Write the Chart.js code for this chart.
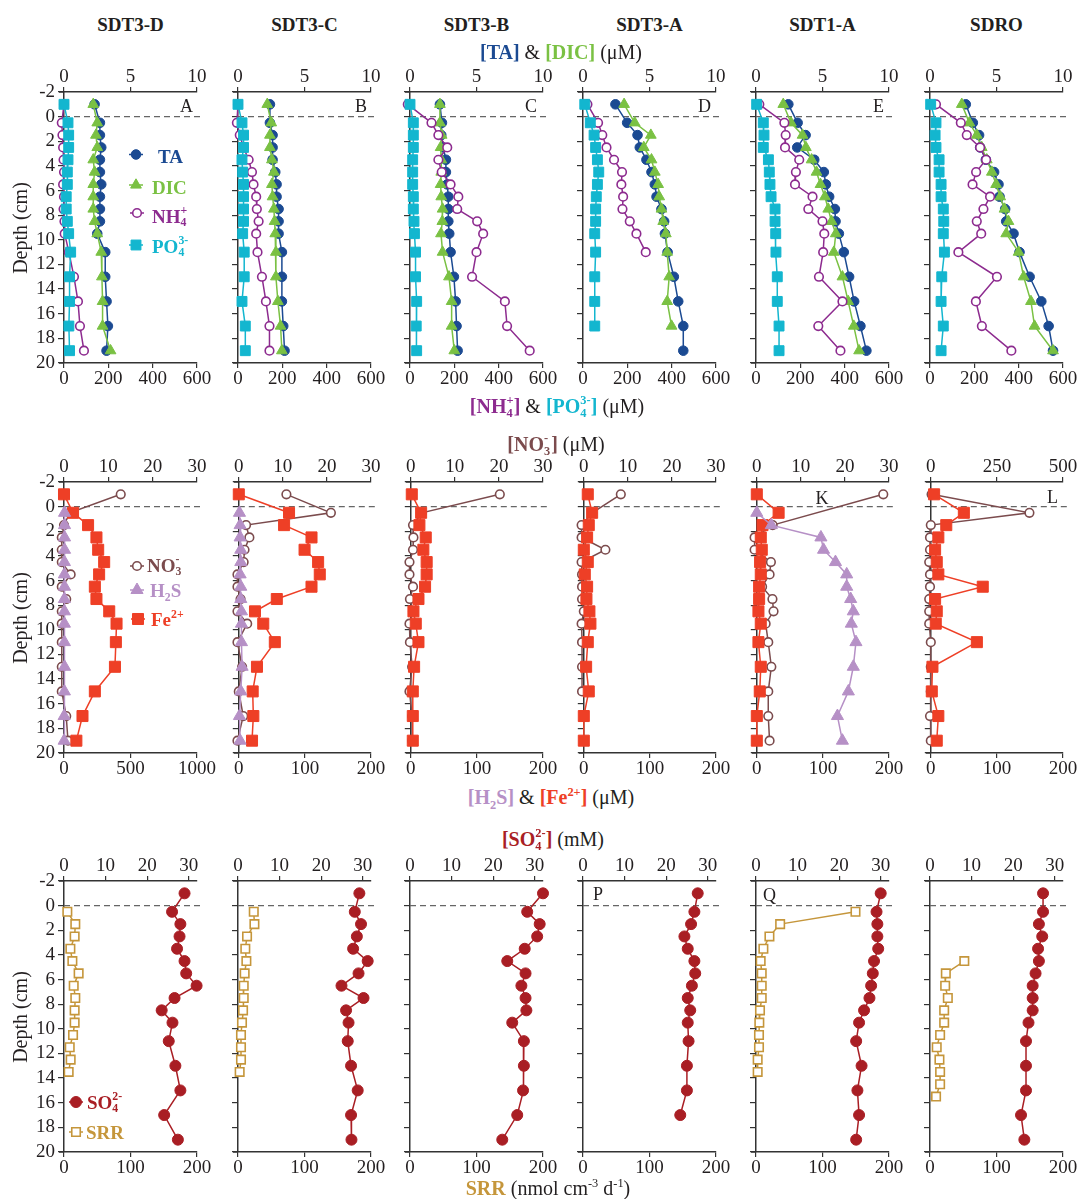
<!DOCTYPE html>
<html>
<head>
<meta charset="utf-8">
<script src="https://cdn.jsdelivr.net/npm/chart.js@4.4.1/dist/chart.umd.min.js"></script>
<style>
  body { margin: 0; background: #fff; }
  #page { position: relative; width: 1077px; height: 1199px; overflow: hidden; background: #fff;
          font-family: 'Liberation Serif', 'Times New Roman', serif; color: #231f20; }
  #page canvas { position: absolute; }
  .t { position: absolute; white-space: nowrap; line-height: 1; transform: translate(-50%, -50%); }
  .l { transform: translate(0, -50%); }
  .r { transform: translate(-100%, -50%); }
  .ttl { font-weight: bold; font-size: 19px; }
  .ax { font-size: 20px; }
  .lg { font-weight: bold; font-size: 19px; }
  .let { font-size: 18px; }
  sub, sup { font-size: 0.62em; line-height: 0; }
  .st { display: inline-block; position: relative; height: 1em; vertical-align: baseline; }
  .st .u, .st .d { position: absolute; left: 0; font-size: 0.62em; line-height: 1; }
  .st .u { top: 0.05em; }
  .st .d { top: 1.1em; }
</style>
</head>
<body>
<div id="page"></div>
<script>
// sites / columns
const sites = ['SDT3-D', 'SDT3-C', 'SDT3-B', 'SDT3-A', 'SDT1-A', 'SDRO'];

// depths (cm)
const depth = [-1, 0.5, 1.5, 2.5, 3.5, 4.5, 5.5, 6.5, 7.5, 8.5, 9.5, 11, 13, 15, 17, 19];
const depthH2S = [0.5, 1.5, 2.5, 3.5, 4.5, 5.5, 6.5, 7.5, 8.5, 9.5, 11, 13, 15, 17, 19];
const depthNo3T1A = [-1, 1.5, 2.5, 3.5, 4.5, 5.5, 6.5, 7.5, 8.5, 9.5, 11, 13, 15, 17, 19];
const depthSrr = [0.5, 1.5, 2.5, 3.5, 4.5, 5.5, 6.5, 7.5, 8.5, 9.5, 10.5, 11.5, 12.5, 13.5];
const depthSrrRO = [4.5, 5.5, 6.5, 7.5, 8.5, 9.5, 10.5, 11.5, 12.5, 13.5, 14.5, 15.5];

// row 1: TA, DIC (mM, top axis) and NH4+, PO4 3- (uM, bottom axis)
const taT3D = [2.3, 2.7, 2.7, 2.8, 2.7, 2.7, 2.8, 2.7, 2.7, 2.7, 2.5, 3.1, 3.1, 3.2, 3.3, 3.2];
const dicT3D = [2.2, 2.5, 2.4, 2.5, 2.2, 2.3, 2.2, 2.2, 2.2, 2.3, 2.5, 2.8, 2.85, 2.9, 2.9, 3.5];
const nh4T3D = [0, -10, -7, -4, -2, 0, -4, 0, -2, 2, 3, 22, 45, 63, 72, 90];
const po4T3D = [0, 18, 21, 21, 18, 15, 15, 10, 10, 15, 21, 30, 25, 25, 22, 25];

const taT3C = [2.4, 2.4, 2.6, 2.6, 2.6, 2.8, 2.9, 2.9, 3.05, 3.05, 3.05, 3.3, 3.3, 3.3, 3.4, 3.5];
const dicT3C = [2.2, 2.5, 2.4, 2.4, 2.55, 2.7, 2.55, 2.6, 2.7, 2.75, 2.8, 2.85, 2.85, 3.0, 3.2, 3.3];
const nh4T3C = [0, -5, 8, 25, 48, 63, 70, 82, 85, 93, 82, 88, 108, 126, 142, 142];
const po4T3C = [0, 18, 25, 25, 18, 21, 25, 25, 25, 25, 21, 28, 28, 18, 33, 33];

const taT3B = [2.25, 2.4, 2.35, 2.5, 2.7, 2.7, 2.8, 2.88, 2.88, 2.88, 2.95, 3.05, 3.3, 3.43, 3.5, 3.58];
const dicT3B = [2.25, 2.25, 2.38, 2.3, 2.35, 2.35, 2.3, 2.35, 2.45, 2.43, 2.33, 2.45, 2.93, 3.13, 3.13, 3.33];
const nh4T3B = [-10, 97, 128, 168, 128, 143, 183, 218, 213, 303, 330, 300, 280, 428, 438, 540];
const po4T3B = [0, 15, 15, 15, 12, 12, 12, 15, 15, 18, 20, 25, 25, 30, 28, 30];

const taT3A = [2.44, 3.32, 4.1, 4.27, 4.77, 5.15, 5.4, 5.53, 5.9, 6.1, 6.16, 6.36, 6.83, 7.16, 7.54, 7.54];
const dicT3A = [3.09, 3.89, 5.1, 4.57, 5.15, 5.4, 5.65, 5.73, 5.9, 6.03, 6.23, 6.33, 6.48, 6.33, 6.66];
const nh4T3A = [20, 68, 87, 106, 140, 176, 173, 181, 178, 211, 241, 283];
const po4T3A = [8, 33, 50, 57, 65, 71, 65, 60, 57, 57, 53, 57, 53, 53, 53];

const taT1A = [2.43, 3.13, 3.73, 3.1, 4.38, 5.1, 5.25, 5.5, 5.93, 5.98, 6.23, 6.6, 7.0, 7.38, 7.85, 8.3];
const dicT1A = [2.05, 2.63, 3.5, 3.75, 4.18, 4.55, 4.85, 5.18, 5.43, 5.68, 6.0, 5.85, 6.5, 6.93, 7.35, 7.75];
const nh4T1A = [15, 128, 134, 131, 195, 180, 176, 255, 236, 300, 308, 303, 284, 390, 281, 381];
const po4T1A = [3, 33, 36, 33, 56, 60, 63, 68, 86, 86, 89, 90, 96, 96, 104, 104];

const taRO = [2.69, 3.22, 3.69, 3.77, 4.2, 4.82, 5.15, 5.23, 5.65, 5.73, 6.28, 6.73, 7.49, 8.37, 8.92, 9.25];
const dicRO = [2.39, 2.96, 3.52, 3.89, 4.27, 4.65, 4.97, 5.28, 5.6, 5.9, 5.73, 6.66, 7.04, 7.59, 7.86, 9.25];
const nh4RO = [27, 139, 166, 226, 253, 208, 192, 271, 241, 211, 231, 128, 302, 207, 234, 367];
const po4RO = [3, 27, 23, 27, 41, 41, 50, 50, 60, 62, 60, 65, 53, 50, 60, 50];

// row 2: NO3- (uM, top axis), H2S and Fe2+ (uM, bottom axis)
const no3T3D = [12.8, 1.3, 0, -0.5, -0.5, -0.5, 1.5, -0.5, 0.5, -0.5, -0.5, -0.5, -0.5, -0.5, 0.5, 0.9];
const h2sT3D = [4, 4, 4, 4, 3, 3, 4, 3, 3, 3, 3, 4, 3, 1, 1];
const feT3D = [0, 68, 181, 244, 257, 302, 264, 232, 244, 340, 395, 390, 383, 232, 139, 93];

const no3T3C = [10.8, 20.9, 1.65, 2.4, 1.3, 1.1, -0.3, -0.3, 0.4, -0.3, 1.9, -0.3, 0.75, 0, 1.0, -0.3];
const h2sT3C = [1, 2, 2, 3, 3, 2, 3, 3, 4, 4, 4, 5, 3, 1, 2];
const feT3C = [0, 76, 68.5, 110, 99.5, 120, 122.5, 110, 57.5, 24.5, 37, 54.5, 27.5, 21, 22, 20];

const no3T3B = [20.2, 2.5, 0.5, 0.6, 0.5, -0.3, -0.3, 0.5, -0.2, 0.5, -0.3, -0.2, 0.3, -0.3, 0.3, 0.3];
const feT3B = [1.5, 15.6, 13, 22.6, 19, 24, 24, 21.6, 11.6, 4, 7.5, 11.6, 5, 3, 3, 3];

const no3T3A = [8.4, 1.9, -0.5, -0.5, 4.9, -0.5, -0.4, -0.4, -0.4, 0, -0.5, -0.4, -0.4, -0.4];
const feT3A = [6, 12.6, 7.5, 5, 0, 6, 1.5, 5, 4, 8.5, 10, 6, 3.5, 7.5, 0, 0];

const no3T1A = [28.7, 3.6, -0.5, -0.5, 3.2, 2.9, 1.2, 3.55, 3.8, 2.0, 2.6, 3.3, 2.6, 2.6, 2.9];
const h2sT1A = [0, 22, 97, 101, 119, 136, 136, 142, 146, 143, 150, 146, 138.5, 122, 129.5];
const feT1A = [0, 33, 8.6, 6, 7.5, 5, 6, 3.5, 3.5, 2.5, 6, 2.5, 6, 4.5, 0, 0];

const no3RO = [3, 373, 0, -3, -3, -6, -3, -3, -6, -6, -6, 0, 0, 0, -3, 0];
const feRO = [5, 50, 23.4, 11.4, 6.5, 9, 11.4, 78.6, 6.5, 9, 7.5, 69.7, 2.5, 1.5, 11.4, 9];

// row 3: SO4 2- (mM, top axis) and SRR (nmol cm-3 d-1, bottom axis)
const so4T3D = [29.0, 26.0, 28.0, 27.8, 27.2, 29.0, 29.4, 31.9, 26.6, 23.5, 26.1, 25.2, 26.8, 28.0, 24.1, 27.4];
const srrT3D = [5, 17, 16, 9.6, 12.6, 22, 14.6, 17, 16, 16, 13.6, 8.6, 10, 7];
const so4T3C = [29.2, 28.1, 29.6, 28.6, 27.7, 31.2, 29.0, 24.9, 30.2, 26.0, 26.6, 26.4, 27.2, 28.8, 27.2, 27.3];
const srrT3C = [23.7, 24.7, 13.6, 11, 12.6, 10, 8.6, 8.6, 7.6, 6, 4.5, 4.5, 4.5, 2.5];
const so4T3B = [32.0, 28.2, 31.2, 30.6, 27.6, 23.4, 27.8, 26.8, 27.8, 28.0, 24.6, 27.4, 27.4, 27.2, 25.8, 22.2];
const so4T3A = [27.6, 26.8, 26.0, 24.4, 25.2, 26.8, 27.0, 26.2, 25.2, 25.8, 25.2, 25.4, 25.0, 25.0, 23.4];
const so4T1A = [30.0, 29.0, 29.2, 29.2, 29.4, 28.4, 28.1, 27.7, 27.3, 26.0, 24.8, 24.1, 25.4, 24.4, 24.8, 24.1];
const srrT1A = [149.6, 36.3, 20.2, 11.1, 7, 8.6, 8.6, 8.6, 6, 5, 4.5, 4.5, 2.5, 2.5];
const so4RO = [27.2, 27.2, 26.2, 27.0, 26.0, 26.2, 25.4, 24.7, 24.7, 24.7, 23.7, 23.1, 23.1, 23.1, 21.9, 22.7];
const srrRO = [51.6, 23.8, 22.8, 26.8, 21.3, 21.3, 15.2, 10.1, 14.2, 15.2, 15.2, 9.1];

// axis ranges [min, max, step]
const topRow1 = [0, 10, 5], botRow1 = [0, 600, 200];
const topRow2 = [0, 30, 10], topRow2RO = [0, 500, 250];
const botRow2 = [0, 200, 100], botRow2T3D = [0, 1000, 500];
const topRow3 = [0, 32, 10], botRow3 = [0, 200, 100];

// series looks
const col = { ta: '#1b4a92', dic: '#7ac143', nh4: '#8d2b8f', po4: '#13b6cf', no3: '#7b4b4d',
              h2s: '#b690c6', fe: '#ee3f26', so4: '#a91e24', srr: '#c5963b' };
const look = {
  ta:  { axis: 'x2', color: col.ta,  style: 'circle',   r: 4.8, open: false },
  dic: { axis: 'x2', color: col.dic, style: 'triangle', r: 6.2, open: false },
  nh4: { axis: 'x',  color: col.nh4, style: 'circle',   r: 4.3, open: true },
  po4: { axis: 'x',  color: col.po4, style: 'rect',     r: 7,   open: false },
  no3: { axis: 'x2', color: col.no3, style: 'circle',   r: 4.3, open: true },
  h2s: { axis: 'x',  color: col.h2s, style: 'triangle', r: 7,   open: false },
  fe:  { axis: 'x',  color: col.fe,  style: 'rect',     r: 7.8, open: false },
  so4: { axis: 'x2', color: col.so4, style: 'circle',   r: 5.5, open: false },
  srr: { axis: 'x',  color: col.srr, style: 'rect',     r: 6,   open: true }
};

// geometry
const colLeft = [64, 238, 410, 583, 756, 930];
const rowTop = [92, 482, 881];
const PW = 133, PH = 271, TOPH = 30, BOTH = 30, PADR = 22;

const S = (k, vals, ys) => ({ k, vals, ys });
const panels = [
  { row: 0, col: 0, top: topRow1, bot: botRow1,
    series: [S('po4', po4T3D, depth), S('nh4', nh4T3D, depth), S('dic', dicT3D, depth), S('ta', taT3D, depth)],
    legend: [['ta', 136, 154.5], ['dic', 136, 185], ['nh4', 137, 213], ['po4', 136, 245]] },
  { row: 0, col: 1, top: topRow1, bot: botRow1,
    series: [S('po4', po4T3C, depth), S('nh4', nh4T3C, depth), S('dic', dicT3C, depth), S('ta', taT3C, depth)] },
  { row: 0, col: 2, top: topRow1, bot: botRow1,
    series: [S('po4', po4T3B, depth), S('nh4', nh4T3B, depth), S('dic', dicT3B, depth), S('ta', taT3B, depth)] },
  { row: 0, col: 3, top: topRow1, bot: botRow1,
    series: [S('po4', po4T3A, depth), S('nh4', nh4T3A, depth), S('dic', dicT3A, depth), S('ta', taT3A, depth)] },
  { row: 0, col: 4, top: topRow1, bot: botRow1,
    series: [S('po4', po4T1A, depth), S('nh4', nh4T1A, depth), S('dic', dicT1A, depth), S('ta', taT1A, depth)] },
  { row: 0, col: 5, top: topRow1, bot: botRow1,
    series: [S('po4', po4RO, depth), S('nh4', nh4RO, depth), S('dic', dicRO, depth), S('ta', taRO, depth)] },

  { row: 1, col: 0, top: topRow2, bot: botRow2T3D,
    series: [S('h2s', h2sT3D, depthH2S), S('fe', feT3D, depth), S('no3', no3T3D, depth)],
    legend: [['no3', 137, 566], ['h2s', 137, 590], ['fe', 138, 619]] },
  { row: 1, col: 1, top: topRow2, bot: botRow2,
    series: [S('h2s', h2sT3C, depthH2S), S('fe', feT3C, depth), S('no3', no3T3C, depth)] },
  { row: 1, col: 2, top: topRow2, bot: botRow2,
    series: [S('fe', feT3B, depth), S('no3', no3T3B, depth)] },
  { row: 1, col: 3, top: topRow2, bot: botRow2,
    series: [S('fe', feT3A, depth), S('no3', no3T3A, depth)] },
  { row: 1, col: 4, top: topRow2, bot: botRow2,
    series: [S('h2s', h2sT1A, depthH2S), S('fe', feT1A, depth), S('no3', no3T1A, depthNo3T1A)] },
  { row: 1, col: 5, top: topRow2RO, bot: botRow2,
    series: [S('fe', feRO, depth), S('no3', no3RO, depth)] },

  { row: 2, col: 0, top: topRow3, bot: botRow3,
    series: [S('so4', so4T3D, depth), S('srr', srrT3D, depthSrr)],
    legend: [['so4', 76, 1102], ['srr', 76, 1132]] },
  { row: 2, col: 1, top: topRow3, bot: botRow3,
    series: [S('so4', so4T3C, depth), S('srr', srrT3C, depthSrr)] },
  { row: 2, col: 2, top: topRow3, bot: botRow3, series: [S('so4', so4T3B, depth)] },
  { row: 2, col: 3, top: topRow3, bot: botRow3, series: [S('so4', so4T3A, depth)] },
  { row: 2, col: 4, top: topRow3, bot: botRow3,
    series: [S('so4', so4T1A, depth), S('srr', srrT1A, depthSrr)] },
  { row: 2, col: 5, top: topRow3, bot: botRow3,
    series: [S('so4', so4RO, depth), S('srr', srrRO, depthSrrRO)] }
];

Chart.defaults.font.family = "'Liberation Serif', 'Times New Roman', serif";
const page = document.getElementById('page');
const tickFont = { size: 19 };
const plain = v => String(v);

function marker(ctx, lk, x, y) {
  const r = lk.r;
  ctx.beginPath();
  if (lk.style === 'circle') {
    ctx.arc(x, y, r, 0, Math.PI * 2);
  } else if (lk.style === 'triangle') {
    for (let i = 0; i < 3; i++) {
      const a = i * 2 * Math.PI / 3;
      const px = x + Math.sin(a) * r, py = y - Math.cos(a) * r;
      if (i === 0) ctx.moveTo(px, py); else ctx.lineTo(px, py);
    }
    ctx.closePath();
  } else {
    const s = r * Math.SQRT1_2;
    ctx.rect(x - s, y - s, 2 * s, 2 * s);
  }
  ctx.fillStyle = lk.open ? '#fff' : lk.color;
  ctx.fill();
  ctx.lineWidth = lk.open ? 1.6 : 1;
  ctx.strokeStyle = lk.color;
  ctx.stroke();
}

// dashed sediment-water line at depth 0, axis stubs, legend keys
const extras = {
  id: 'extras',
  beforeDatasetsDraw(chart) {
    const { ctx, chartArea, scales } = chart;
    const y = scales.y.getPixelForValue(0);
    ctx.save();
    ctx.strokeStyle = '#333';
    ctx.lineWidth = 1.5;
    ctx.beginPath();
    ctx.moveTo(chartArea.left - 5, chartArea.top);
    ctx.lineTo(chartArea.left, chartArea.top);
    ctx.moveTo(chartArea.left - 5, chartArea.bottom);
    ctx.lineTo(chartArea.left, chartArea.bottom);
    ctx.stroke();
    ctx.setLineDash([6, 4]);
    ctx.strokeStyle = '#666';
    ctx.lineWidth = 1.2;
    ctx.beginPath();
    ctx.moveTo(chartArea.left, y);
    ctx.lineTo(chartArea.right + 5, y);
    ctx.stroke();
    ctx.restore();
  },
  afterDraw(chart) {
    const p = chart.options.plugins.extras;
    if (!p || !p.legend) return;
    const ctx = chart.ctx;
    ctx.save();
    p.legend.forEach(([k, px, py]) => {
      const lk = look[k];
      const x = px - p.ox, y = py - p.oy;
      ctx.strokeStyle = lk.color;
      ctx.lineWidth = 1.5;
      ctx.beginPath();
      ctx.moveTo(x - 7, y);
      ctx.lineTo(x + 7, y);
      ctx.stroke();
      marker(ctx, lk, x, y);
    });
    ctx.restore();
  }
};

function xScale(pos, rng, h, pad) {
  return {
    type: 'linear', position: pos, min: rng[0], max: rng[1],
    ticks: { stepSize: rng[2], includeBounds: false, autoSkip: false, maxRotation: 0,
             color: '#231f20', font: tickFont, padding: pad, callback: plain },
    grid: { drawOnChartArea: false, drawTicks: true, tickLength: 5, color: '#333', lineWidth: 1.2 },
    border: { display: true, color: '#333', width: 1.5 },
    afterFit(s) { s.height = h; s.paddingLeft = 0; s.paddingRight = 0; }
  };
}

panels.forEach(p => {
  const yW = p.col === 0 ? 50 : 8;
  const ox = colLeft[p.col] - yW, oy = rowTop[p.row] - TOPH;
  const cv = document.createElement('canvas');
  cv.width = yW + PW + PADR;
  cv.height = TOPH + PH + BOTH;
  cv.style.left = ox + 'px';
  cv.style.top = oy + 'px';
  page.appendChild(cv);

  new Chart(cv, {
    type: 'scatter',
    data: {
      datasets: p.series.map(s => {
        const lk = look[s.k];
        return {
          data: s.vals.map((v, i) => ({ x: v, y: s.ys[i] })),
          xAxisID: lk.axis, yAxisID: 'y', showLine: true, clip: false,
          borderColor: lk.color, borderWidth: 1.5, backgroundColor: lk.color,
          pointStyle: lk.style, pointRadius: lk.r,
          pointBackgroundColor: lk.open ? '#fff' : lk.color,
          pointBorderColor: lk.color, pointBorderWidth: lk.open ? 1.6 : 1
        };
      })
    },
    options: {
      responsive: false, animation: false, events: [], devicePixelRatio: 1,
      layout: { padding: { left: 0, right: PADR, top: 0, bottom: 0 } },
      plugins: { legend: { display: false }, tooltip: { enabled: false },
                 extras: { legend: p.legend, ox, oy } },
      scales: {
        x: xScale('bottom', p.bot, BOTH, 0),
        x2: xScale('top', p.top, TOPH, -1),
        y: {
          type: 'linear', position: 'left', reverse: true, min: -2, max: 20,
          ticks: { stepSize: 2, autoSkip: false, font: tickFont, padding: 3, callback: plain,
                   color: p.col === 0 ? '#231f20' : 'rgba(0,0,0,0)' },
          grid: { drawOnChartArea: false, drawTicks: true, tickLength: 6, color: '#333', lineWidth: 1.2 },
          border: { display: true, color: '#333', width: 1.5 },
          afterFit(s) { s.width = yW; s.paddingTop = 0; s.paddingBottom = 0; }
        }
      }
    },
    plugins: [extras]
  });
});

// texts
function st(up, dn, w) {
  return '<span class="st" style="width:' + w + 'em"><span class="u">' + up +
         '</span><span class="d">' + dn + '</span></span>';
}
const B = (c, h) => '<b style="color:' + c + '">' + h + '</b>';

const texts = [];
sites.forEach((s, i) => texts.push([s, colLeft[i] + PW / 2, 24, 'ttl']));
texts.push([B(col.ta, '[TA]') + ' &amp; ' + B(col.dic, '[DIC]') + ' (μM)', 561, 52, 'ax']);
texts.push([B(col.nh4, '[NH' + st('+', '4', 0.36) + ']') + ' &amp; ' +
            B(col.po4, '[PO' + st('3-', '4', 0.52) + ']') + ' (μM)', 557, 404, 'ax']);
texts.push([B(col.no3, '[NO' + st('-', '3', 0.36) + ']') + ' (μM)', 556, 442, 'ax']);
texts.push([B(col.h2s, '[H<sub>2</sub>S]') + ' &amp; ' + B(col.fe, '[Fe<sup>2+</sup>]') + ' (μM)', 551, 797, 'ax']);
texts.push([B(col.so4, '[SO' + st('2-', '4', 0.52) + ']') + ' (mM)', 553, 837, 'ax']);
texts.push([B(col.srr, 'SRR') + ' (nmol cm<sup>-3</sup> d<sup>-1</sup>)', 548, 1188, 'ax']);

const legendTexts = [
  ['TA', col.ta, 158, 155.5], ['DIC', col.dic, 152, 187],
  ['NH' + st('+', '4', 0.36), col.nh4, 152, 215], ['PO' + st('3-', '4', 0.52), col.po4, 152, 245],
  ['NO' + st('-', '3', 0.36), col.no3, 147, 564], ['H<sub>2</sub>S', col.h2s, 150, 590],
  ['Fe<sup>2+</sup>', col.fe, 151, 619],
  ['SO' + st('2-', '4', 0.52), col.so4, 87, 1101], ['SRR', col.srr, 86, 1132]
];
const letters = [
  ['A', colLeft[0] + PW - 4, 106, 'r'], ['B', colLeft[1] + PW - 4, 106, 'r'],
  ['C', colLeft[2] + PW - 6, 106, 'r'], ['D', colLeft[3] + PW - 5, 106, 'r'],
  ['E', colLeft[4] + PW - 5, 106, 'r'],
  ['K', 822, 498, ''], ['L', colLeft[5] + PW - 5, 497, 'r'],
  ['P', 593, 894, 'l'], ['Q', 763, 895, 'l']
];

function addText(html, x, y, cls, style) {
  const d = document.createElement('div');
  d.className = 't ' + cls;
  d.style.left = x + 'px';
  d.style.top = y + 'px';
  if (style) d.style.cssText += style;
  d.innerHTML = html;
  page.appendChild(d);
}
texts.forEach(([h, x, y, c]) => addText(h, x, y, c));
legendTexts.forEach(([h, c, x, y]) => addText(h, x, y, 'lg l', 'color:' + c + ';'));
letters.forEach(([h, x, y, a]) => addText(h, x, y, 'let ' + a));
rowTop.forEach(t => addText('Depth (cm)', 20, t + PH / 2, 'ax',
  'transform:translate(-50%,-50%) rotate(-90deg);'));
</script>
</body>
</html>
